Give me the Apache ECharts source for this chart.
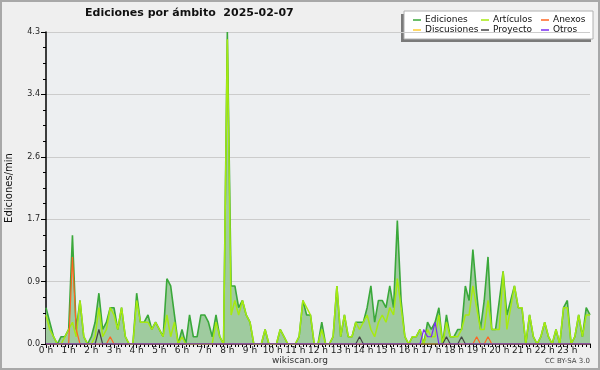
<!DOCTYPE html>
<html>
<head>
<meta charset="utf-8">
<script src="https://cdn.jsdelivr.net/npm/echarts@6/dist/echarts.min.js"></script>
<style>
html, body { margin: 0; padding: 0; background: #efefef; }
#container { width: 600px; height: 370px; }
</style>
</head>
<body>
<div id="container"></div>
<script>
// 10-minute bins over the day, edits per minute
var ediciones = [
    0.5, 0.3, 0.1, 0, 0.1, 0.1, 0.2, 1.5, 0.2, 0.6, 0.1, 0,
    0.1, 0.3, 0.7, 0.2, 0.3, 0.5, 0.5, 0.2, 0.5, 0.1, 0, 0,
    0.7, 0.3, 0.3, 0.4, 0.2, 0.3, 0.2, 0.1, 0.9, 0.8, 0.4, 0,
    0.2, 0, 0.4, 0.1, 0.1, 0.4, 0.4, 0.3, 0.1, 0.4, 0.1, 0,
    4.3, 0.8, 0.8, 0.5, 0.6, 0.4, 0.3, 0, 0, 0, 0.2, 0,
    0, 0, 0.2, 0.1, 0, 0, 0, 0.1, 0.6, 0.4, 0.4, 0,
    0, 0.3, 0, 0, 0.1, 0.8, 0.1, 0.4, 0.1, 0.1, 0.3, 0.3,
    0.3, 0.5, 0.8, 0.3, 0.6, 0.6, 0.5, 0.8, 0.5, 1.7, 0.6, 0.1,
    0, 0.1, 0.1, 0.2, 0, 0.3, 0.2, 0.3, 0.5, 0, 0.4, 0.1,
    0.1, 0.2, 0.2, 0.8, 0.6, 1.3, 0.7, 0.2, 0.6, 1.2, 0.2, 0.2,
    0.6, 1.0, 0.4, 0.6, 0.8, 0.5, 0.5, 0, 0.4, 0.1, 0, 0.1,
    0.3, 0.1, 0, 0.2, 0, 0.5, 0.6, 0, 0.1, 0.4, 0.1, 0.5,
    0.4
];
var articulos = [
    0.4, 0.2, 0.1, 0, 0, 0.1, 0.2, 0.3, 0.1, 0.6, 0.1, 0,
    0, 0.1, 0.5, 0.1, 0.2, 0.5, 0.4, 0.2, 0.5, 0.1, 0, 0,
    0.6, 0.3, 0.3, 0.3, 0.2, 0.3, 0.2, 0.1, 0.4, 0.1, 0.3, 0,
    0.1, 0, 0, 0, 0, 0, 0, 0, 0, 0.3, 0.1, 0,
    4.2, 0.4, 0.6, 0.4, 0.6, 0.4, 0.3, 0, 0, 0, 0.2, 0,
    0, 0, 0.2, 0.1, 0, 0, 0, 0.1, 0.6, 0.5, 0.4, 0,
    0, 0.2, 0, 0, 0.1, 0.8, 0.1, 0.4, 0.1, 0.1, 0.3, 0.2,
    0.3, 0.4, 0.2, 0.1, 0.3, 0.4, 0.3, 0.5, 0.4, 0.9, 0.5, 0.1,
    0, 0.1, 0.1, 0.2, 0, 0.2, 0.1, 0.1, 0.4, 0, 0.3, 0.1,
    0.1, 0.1, 0.2, 0.4, 0.4, 0.8, 0.5, 0.2, 0.2, 0.6, 0.2, 0.2,
    0.2, 1.0, 0.2, 0.5, 0.8, 0.5, 0.5, 0, 0.4, 0.1, 0, 0.1,
    0.3, 0.1, 0, 0.2, 0, 0.5, 0.5, 0, 0.1, 0.4, 0.1, 0.4,
    0.4
];
var anexos = [
    0, 0, 0, 0, 0, 0, 0, 1.2, 0.2, 0, 0, 0,
    0, 0, 0, 0, 0, 0.1, 0, 0, 0, 0, 0, 0,
    0, 0, 0, 0, 0, 0, 0, 0, 0, 0, 0, 0,
    0, 0, 0, 0, 0, 0, 0, 0, 0, 0, 0, 0,
    0, 0, 0, 0, 0, 0, 0, 0, 0, 0, 0, 0,
    0, 0, 0, 0, 0, 0, 0, 0, 0, 0, 0, 0,
    0, 0, 0, 0, 0, 0, 0, 0, 0, 0, 0, 0,
    0, 0, 0, 0, 0, 0, 0, 0, 0, 0, 0, 0,
    0, 0, 0, 0, 0, 0, 0, 0, 0, 0, 0, 0,
    0, 0, 0, 0, 0, 0, 0.1, 0, 0, 0.1, 0, 0,
    0, 0, 0, 0, 0, 0, 0, 0, 0, 0, 0, 0,
    0, 0, 0, 0, 0, 0, 0, 0, 0, 0, 0, 0,
    0
];
var discusiones = [
    0, 0, 0, 0, 0, 0, 0, 0, 0, 0, 0, 0,
    0, 0, 0, 0, 0, 0, 0, 0, 0, 0, 0, 0,
    0, 0, 0, 0, 0, 0, 0, 0, 0, 0, 0, 0,
    0, 0, 0, 0, 0, 0, 0, 0, 0, 0, 0, 0,
    0, 0, 0, 0, 0, 0, 0, 0, 0, 0, 0, 0,
    0, 0, 0, 0, 0, 0, 0, 0, 0, 0, 0, 0,
    0, 0, 0, 0, 0, 0, 0, 0, 0, 0, 0, 0,
    0, 0, 0, 0, 0, 0, 0, 0, 0, 0, 0, 0,
    0, 0, 0, 0, 0, 0, 0, 0, 0, 0, 0, 0,
    0, 0, 0, 0, 0, 0, 0, 0, 0, 0, 0, 0,
    0, 0, 0, 0, 0, 0, 0, 0, 0, 0, 0, 0,
    0, 0, 0, 0, 0, 0, 0, 0, 0, 0, 0, 0,
    0
];
var proyecto = [
    0, 0, 0, 0, 0, 0, 0, 0, 0, 0, 0, 0,
    0, 0, 0.2, 0, 0, 0, 0, 0, 0, 0, 0, 0,
    0, 0, 0, 0, 0, 0, 0, 0, 0, 0, 0, 0,
    0, 0, 0, 0, 0, 0, 0, 0, 0, 0, 0, 0,
    0, 0, 0, 0, 0, 0, 0, 0, 0, 0, 0, 0,
    0, 0, 0, 0, 0, 0, 0, 0, 0, 0, 0, 0,
    0, 0, 0, 0, 0, 0, 0, 0, 0, 0, 0, 0.1,
    0, 0, 0, 0, 0, 0, 0, 0, 0, 0, 0, 0,
    0, 0, 0, 0, 0, 0, 0, 0, 0, 0, 0.1, 0,
    0, 0, 0.1, 0, 0, 0, 0, 0, 0, 0, 0, 0,
    0, 0, 0, 0, 0, 0, 0, 0, 0, 0, 0, 0,
    0, 0, 0, 0, 0, 0, 0, 0, 0, 0, 0, 0,
    0
];
var otros = [
    0, 0, 0, 0, 0, 0, 0, 0, 0, 0, 0, 0,
    0, 0, 0, 0, 0, 0, 0, 0, 0, 0, 0, 0,
    0, 0, 0, 0, 0, 0, 0, 0, 0, 0, 0, 0,
    0, 0, 0, 0, 0, 0, 0, 0, 0, 0, 0, 0,
    0, 0, 0, 0, 0, 0, 0, 0, 0, 0, 0, 0,
    0, 0, 0, 0, 0, 0, 0, 0, 0, 0, 0, 0,
    0, 0, 0, 0, 0, 0, 0, 0, 0, 0, 0, 0,
    0, 0, 0, 0, 0, 0, 0, 0, 0, 0, 0, 0,
    0, 0, 0, 0, 0.2, 0.1, 0.1, 0.3, 0, 0, 0, 0,
    0, 0, 0, 0, 0, 0, 0, 0, 0, 0, 0, 0,
    0, 0, 0, 0, 0, 0, 0, 0, 0, 0, 0, 0,
    0, 0, 0, 0, 0, 0, 0, 0, 0, 0, 0, 0,
    0
];

var font = 'DejaVu Sans';

function pts(arr) {
    return arr.map(function (v, i) { return [i / 6, v]; });
}

function lineSeries(name, arr, color, width) {
    return {
        name: name,
        type: 'line',
        data: pts(arr),
        symbol: 'none',
        silent: true,
        lineStyle: { color: color, width: width },
        itemStyle: { color: color }
    };
}

var dom = document.getElementById('container');
var myChart = echarts.init(dom, null, { renderer: 'canvas' });

var ed = lineSeries('Ediciones', ediciones, '#3aa83a', 1.6);
ed.areaStyle = { color: '#9fcb9f', opacity: 1 };

var legendBase = {
    orient: 'vertical',
    top: 15,
    itemWidth: 8,
    itemHeight: 1.5,
    itemGap: 0,
    icon: 'rect',
    padding: 0,
    selectedMode: false,
    textStyle: { fontFamily: font, fontSize: 9, color: '#111', lineHeight: 10, padding: [0, 0, 0, -1] }
};

option = {
    animation: false,
    backgroundColor: '#efefef',
    title: {
        text: 'Ediciones por ámbito  2025-02-07',
        left: 85,
        top: 8,
        padding: 0,
        textStyle: { fontFamily: font, fontSize: 11, fontWeight: 'bold', color: '#111' }
    },
    legend: [
        Object.assign({}, legendBase, { left: 413, data: ['Ediciones', 'Discusiones'] }),
        Object.assign({}, legendBase, { left: 481, data: ['Artículos', 'Proyecto'] }),
        Object.assign({}, legendBase, { left: 541, data: ['Anexos', 'Otros'] })
    ],
    graphic: [
        { type: 'rect', z: -1, shape: { x: 1, y: 1, width: 598, height: 368 },
          style: { fill: 'none', stroke: '#a8a8a8', lineWidth: 2 } },
        { type: 'rect', z: 0, shape: { x: 401, y: 14, width: 190, height: 28 },
          style: { fill: '#7a7a7a' } },
        { type: 'rect', z: 0, shape: { x: 404, y: 11, width: 189, height: 28 },
          style: { fill: '#ffffff', stroke: '#b0b0b0', lineWidth: 1 } },
        { type: 'text', left: 'center', top: 356,
          style: { text: 'wikiscan.org', fontFamily: font, fontSize: 9, fill: '#333' } },
        { type: 'text', right: 10, top: 358,
          style: { text: 'CC BY-SA 3.0', fontFamily: font, fontSize: 7, fill: '#444' } }
    ],
    grid: {
        left: 46,
        right: 10,
        top: 32,
        bottom: 26,
        outerBoundsMode: 'none',
        containLabel: false,
        show: true,
        backgroundColor: '#edeff1',
        borderWidth: 0
    },
    xAxis: {
        type: 'value',
        min: 0,
        max: 24,
        interval: 1,
        axisLine: { lineStyle: { color: '#000', width: 1.5 } },
        axisTick: { length: 4, lineStyle: { color: '#000' } },
        minorTick: { show: true, splitNumber: 6, length: 3, lineStyle: { color: '#000' } },
        splitLine: { show: false },
        axisLabel: {
            margin: 2,
            fontFamily: font,
            fontSize: 9,
            color: '#222',
            formatter: function (v) { return v >= 24 ? '' : v + ' h'; }
        }
    },
    yAxis: {
        type: 'value',
        min: 0,
        max: 4.3,
        interval: 0.86,
        name: 'Ediciones/min',
        nameLocation: 'middle',
        nameRotate: 90,
        nameGap: 32,
        nameTextStyle: { fontFamily: font, fontSize: 10, color: '#111' },
        axisLine: { show: true, lineStyle: { color: '#000', width: 1.5 } },
        axisTick: { show: true, length: 5, lineStyle: { color: '#000' } },
        minorTick: { show: true, splitNumber: 4, length: 3, lineStyle: { color: '#000' } },
        splitLine: { show: true, lineStyle: { color: '#cccccc', width: 1 } },
        axisLabel: {
            margin: 6,
            fontFamily: font,
            fontSize: 8,
            color: '#222',
            formatter: function (v) { return v.toFixed(1); }
        }
    },
    series: [
        ed,
        lineSeries('Artículos', articulos, '#a6ea10', 1.5),
        lineSeries('Anexos', anexos, '#ff6622', 1.2),
        lineSeries('Discusiones', discusiones, '#ffcc33', 1.2),
        lineSeries('Proyecto', proyecto, '#444444', 1.2),
        lineSeries('Otros', otros, '#7a2cf0', 1.2)
    ]
};
if (option && typeof option === "object") {
    myChart.setOption(option, true);
}
</script>
</body>
</html>
